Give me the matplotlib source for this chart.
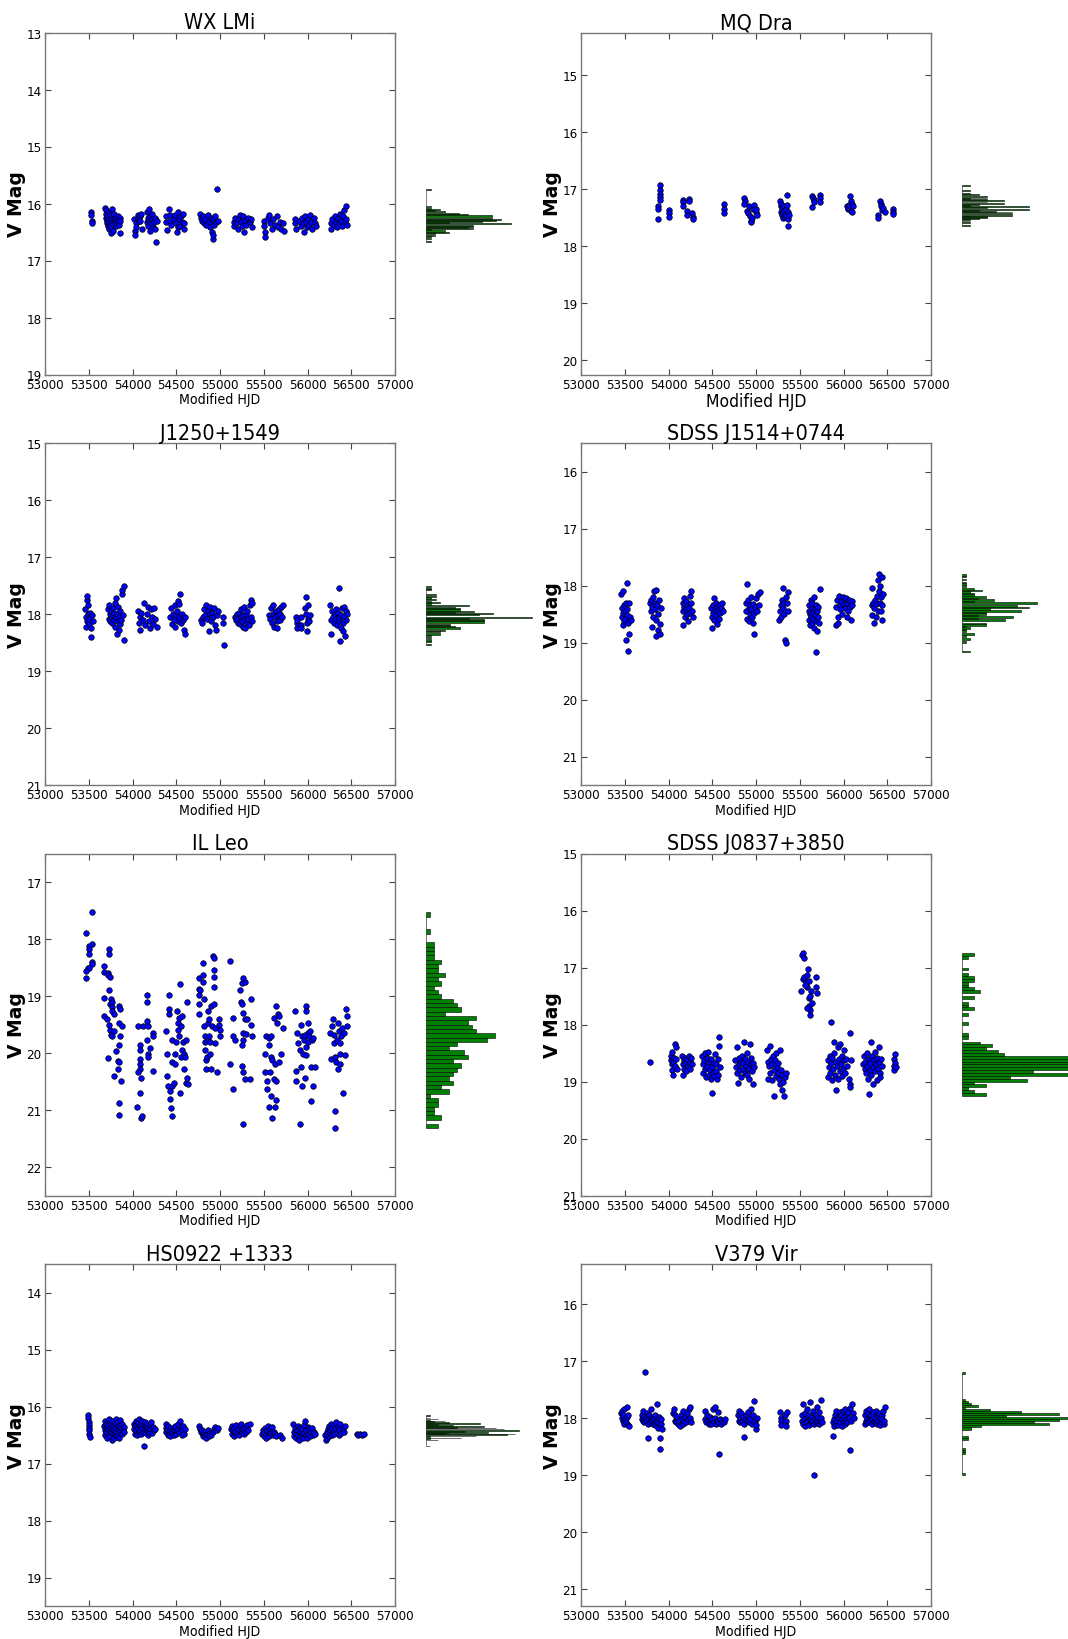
import numpy as np
import matplotlib
matplotlib.use("Agg")
import matplotlib.pyplot as plt
from matplotlib.ticker import MultipleLocator, ScalarFormatter
from matplotlib import font_manager as fm

# ---------------- data (MJD, V mag) ----------------
wx_lmi = [
 (53530,16.15),(53530,16.20),(53532,16.30),(53532,16.35),
 (53690,16.08),(53692,16.12),(53695,16.18),(53700,16.25),(53705,16.30),(53708,16.22),(53712,16.35),(53718,16.28),(53722,16.40),(53728,16.15),(53730,16.33),(53735,16.45),(53740,16.20),(53745,16.38),(53750,16.52),(53752,16.27),(53758,16.42),(53762,16.10),(53768,16.32),(53772,16.48),(53778,16.22),(53782,16.36),(53790,16.18),(53795,16.30),(53802,16.25),(53808,16.40),(53815,16.35),(53822,16.28),(53830,16.22),(53838,16.32),(53845,16.38),(53852,16.25),(53858,16.30),(53860,16.52),
 (54022,16.28),(54025,16.48),(54028,16.55),(54035,16.35),(54045,16.42),(54060,16.25),(54068,16.20),(54075,16.30),(54082,16.22),(54090,16.30),(54098,16.18),(54105,16.45),
 (54162,16.15),(54165,16.32),(54172,16.25),(54178,16.40),(54185,16.10),(54190,16.30),(54198,16.48),(54205,16.22),(54212,16.35),(54220,16.28),(54228,16.18),(54235,16.42),(54245,16.33),(54255,16.25),(54262,16.45),(54268,16.68),(54278,16.30),
 (54385,16.22),(54388,16.32),(54392,16.47),(54420,16.10),(54425,16.20),(54430,16.30),(54445,16.38),(54470,16.28),(54490,16.20),(54500,16.35),(54510,16.50),(54515,16.42),(54525,16.15),(54535,16.28),(54545,16.40),(54555,16.22),(54565,16.32),(54575,16.18),(54585,16.35),(54588,16.45),
 (54775,16.18),(54780,16.25),(54790,16.30),(54800,16.22),(54815,16.35),(54830,16.28),(54845,16.38),(54860,16.20),(54875,16.32),(54890,16.42),(54900,16.25),(54905,16.50),(54910,16.35),(54915,16.62),(54920,16.55),(54925,16.28),(54935,16.38),(54945,16.22),(54955,16.32),(54969,15.74),(54975,16.30),
 (55155,16.32),(55160,16.40),(55170,16.25),(55185,16.35),(55200,16.45),(55215,16.28),(55225,16.20),(55235,16.33),(55250,16.40),(55260,16.22),(55270,16.50),(55285,16.30),(55300,16.38),(55320,16.25),(55340,16.33),(55355,16.28),(55365,16.42),
 (55500,16.30),(55505,16.40),(55510,16.50),(55515,16.58),(55545,16.25),(55560,16.20),(55575,16.35),(55590,16.45),(55610,16.28),(55630,16.38),(55650,16.22),(55665,16.42),(55680,16.32),(55700,16.45),(55720,16.35),(55728,16.48),
 (55855,16.28),(55860,16.35),(55865,16.45),(55900,16.30),(55920,16.40),(55935,16.25),(55950,16.35),(55965,16.50),(55975,16.22),(55985,16.32),(55995,16.42),(56005,16.28),(56015,16.38),(56025,16.20),(56040,16.32),(56055,16.45),(56070,16.25),(56085,16.35),(56100,16.40),
 (56265,16.35),(56270,16.45),(56285,16.28),(56300,16.38),(56315,16.22),(56325,16.33),(56340,16.42),(56350,16.25),(56360,16.35),(56372,16.18),(56385,16.30),(56395,16.40),(56405,16.22),(56415,16.12),(56425,16.32),(56435,16.05),(56445,16.28),(56452,16.38),
]

mq_dra = [
 (53875,17.30),(53877,17.35),(53875,17.53),(53905,16.93),(53905,17.02),(53907,17.08),(53907,17.13),(53905,17.18),
 (54004,17.37),(54004,17.42),(54006,17.48),
 (54160,17.18),(54160,17.22),(54162,17.30),(54206,17.38),(54208,17.45),(54237,17.17),(54237,17.20),
 (54272,17.42),(54276,17.48),(54278,17.52),
 (54634,17.25),(54634,17.35),(54636,17.42),
 (54868,17.15),(54870,17.20),(54868,17.25),
 (54900,17.38),(54910,17.42),(54920,17.30),(54930,17.47),(54940,17.55),(54948,17.58),(54955,17.50),(54960,17.35),
 (54980,17.27),(54995,17.40),(55005,17.35),(55015,17.45),
 (55276,17.20),(55280,17.30),(55285,17.40),(55290,17.25),(55295,17.45),(55300,17.35),(55305,17.50),(55310,17.42),(55318,17.30),(55325,17.38),(55330,17.48),(55338,17.35),(55345,17.45),(55350,17.10),(55355,17.28),(55360,17.52),(55365,17.40),(55370,17.65),(55375,17.45),
 (55638,17.12),(55640,17.32),(55650,17.15),(55660,17.18),(55665,17.22),
 (55728,17.10),(55730,17.15),(55732,17.22),
 (56040,17.30),(56048,17.35),(56055,17.33),(56065,17.27),(56075,17.12),(56080,17.20),(56088,17.38),(56095,17.40),(56100,17.25),(56105,17.30),
 (56389,17.45),(56392,17.50),
 (56416,17.20),(56425,17.25),(56432,17.30),(56440,17.37),(56450,17.33),(56470,17.40),
 (56560,17.35),(56560,17.40),(56562,17.43),
]

j1250 = [
 (53462,17.92),(53465,18.05),(53470,18.22),(53475,18.12),(53480,17.75),(53485,17.69),(53490,18.00),(53495,17.85),(53500,18.18),(53505,18.08),(53515,17.98),(53525,18.25),(53530,18.41),(53540,18.02),(53550,18.12),
 (53725,17.92),(53730,18.08),(53735,17.85),(53742,18.00),(53748,18.12),(53752,17.95),(53760,18.05),(53765,18.15),(53772,17.90),(53778,18.02),(53785,18.10),(53790,17.98),(53795,18.22),(53800,17.80),(53808,18.05),(53812,17.72),(53818,18.35),(53822,18.00),(53830,18.12),(53835,17.88),(53840,18.28),(53848,18.05),(53855,17.95),(53860,18.18),(53868,18.10),(53875,17.65),(53880,17.58),(53890,18.02),(53898,17.50),(53905,18.45),
 (54065,17.95),(54070,18.15),(54080,18.05),(54090,18.28),(54100,17.98),(54115,18.10),(54130,17.80),(54145,18.20),(54160,18.00),(54175,17.88),(54190,18.12),(54200,18.25),(54210,17.92),(54222,18.05),(54235,18.18),(54248,17.90),(54260,18.08),(54275,18.22),
 (54432,18.05),(54440,17.90),(54450,18.18),(54460,18.00),(54470,18.10),(54480,17.85),(54490,18.22),(54498,18.02),(54505,17.95),(54515,18.12),(54520,17.78),(54528,18.05),(54535,17.82),(54545,17.65),(54550,18.15),(54560,18.00),(54572,18.10),(54585,18.28),(54595,18.35),(54605,18.05),
 (54785,18.10),(54792,18.15),(54800,18.05),(54815,17.92),(54830,18.02),(54840,17.85),(54850,18.08),(54860,17.95),(54870,18.30),(54880,18.00),(54890,17.88),(54900,18.12),(54910,17.98),(54920,18.05),(54930,17.90),(54940,18.20),(54950,18.28),(54960,18.02),(54975,17.95),(55035,18.05),(55037,18.15),(55040,18.55),
 (55172,18.05),(55180,18.10),(55190,18.00),(55200,18.15),(55210,18.08),(55220,17.98),(55228,18.18),(55235,18.05),(55245,17.92),(55252,18.12),(55260,18.22),(55268,18.02),(55275,17.88),(55282,18.10),(55290,18.25),(55298,18.00),(55305,18.15),(55312,17.95),(55320,18.08),(55330,18.20),(55340,17.85),(55350,18.05),(55358,17.75),(55362,17.80),(55368,18.12),
 (55562,18.02),(55570,18.08),(55580,17.90),(55590,18.15),(55600,17.85),(55610,18.00),(55620,18.22),(55630,18.05),(55640,17.95),(55648,18.12),(55655,18.25),(55662,18.02),(55670,17.92),(55680,18.10),(55690,18.00),(55700,17.88),(55712,18.05),(55718,17.85),
 (55872,18.05),(55875,18.15),(55880,18.25),(55885,18.10),(55920,18.05),(55925,18.20),(55930,18.25),(55975,17.90),(55980,18.00),(55985,17.70),(55990,18.15),(55995,18.30),(56000,18.08),(56010,17.85),(56018,18.12),(56025,18.02),
 (56262,17.85),(56265,18.35),(56270,18.10),(56278,17.95),(56290,18.05),(56300,18.15),(56310,18.00),(56320,18.08),(56330,17.92),(56340,18.20),(56348,17.98),(56355,18.12),(56360,17.55),(56365,18.05),(56372,18.48),(56378,18.25),(56385,18.02),(56392,17.90),(56400,18.15),(56408,18.30),(56415,18.05),(56422,17.88),(56430,18.38),(56438,18.10),(56445,17.95),(56450,18.00),
]

j1514 = [
 (53462,18.15),(53465,18.40),(53470,18.55),(53475,18.70),(53480,18.10),(53485,18.48),(53490,18.62),(53495,18.35),(53500,18.45),(53505,18.58),(53510,18.30),(53515,18.95),(53520,18.52),(53525,17.95),(53530,18.42),(53535,18.65),(53540,19.15),(53545,18.85),(53550,18.30),(53560,18.55),(53570,18.60),
 (53792,18.30),(53798,18.45),(53805,18.25),(53810,18.72),(53815,18.38),(53822,18.20),(53828,18.55),(53835,18.10),(53840,18.42),(53845,18.30),(53852,18.60),(53858,18.08),(53862,18.88),(53868,18.35),(53875,18.50),(53882,18.78),(53890,18.25),(53898,18.68),(53905,18.85),(53912,18.40),
 (54160,18.30),(54165,18.45),(54170,18.70),(54175,18.22),(54180,18.38),(54185,18.55),(54190,18.32),(54198,18.42),(54205,18.28),(54210,18.50),(54218,18.35),(54225,18.62),(54232,18.40),(54240,18.18),(54248,18.48),(54255,18.30),(54262,18.10),(54268,18.45),(54275,18.55),
 (54490,18.40),(54495,18.55),(54500,18.75),(54505,18.35),(54512,18.48),(54518,18.22),(54525,18.60),(54530,18.42),(54538,18.30),(54545,18.52),(54552,18.68),(54558,18.38),(54565,18.45),(54572,18.58),(54580,18.35),(54590,18.48),(54600,18.40),(54612,18.30),(54625,18.45),
 (54880,18.45),(54888,18.30),(54895,18.58),(54902,17.97),(54908,18.25),(54915,18.40),(54922,18.62),(54928,18.35),(54935,18.50),(54942,18.20),(54948,18.42),(54955,18.55),(54962,18.65),(54968,18.32),(54975,18.85),(54982,18.48),(54990,18.38),(55000,18.22),(55010,18.45),(55020,18.15),(55035,18.35),(55050,18.12),
 (55268,18.60),(55275,18.45),(55282,18.35),(55290,18.55),(55298,18.25),(55305,18.40),(55312,18.05),(55318,18.30),(55325,18.50),(55330,18.95),(55338,19.00),(55345,18.20),(55352,18.30),(55360,18.45),(55366,18.12),
 (55600,18.45),(55605,18.60),(55610,18.35),(55615,18.70),(55620,18.50),(55625,18.25),(55630,18.55),(55635,18.40),(55640,18.65),(55645,18.30),(55650,18.48),(55655,18.58),(55660,18.20),(55665,18.75),(55670,18.42),(55675,18.52),(55680,18.35),(55685,18.62),(55690,19.17),(55695,18.45),(55700,18.80),(55705,18.55),(55712,18.38),(55720,18.65),(55728,18.07),
 (55912,18.38),(55918,18.70),(55925,18.25),(55932,18.55),(55940,18.65),(55948,18.18),(55955,18.35),(55965,18.42),(55975,18.28),(55985,18.50),(55995,18.20),(56005,18.32),(56015,18.40),(56025,18.22),(56035,18.55),(56045,18.30),(56055,18.45),(56065,18.25),(56075,18.38),(56085,18.60),(56095,18.28),(56102,18.35),
 (56320,18.35),(56325,18.05),(56330,18.52),(56338,18.30),(56345,18.65),(56352,18.40),(56360,18.25),(56368,18.55),(56375,18.32),(56382,18.18),(56390,18.45),(56398,17.90),(56402,17.80),(56408,18.10),(56415,18.30),(56420,18.00),(56425,18.45),(56430,18.20),(56435,17.85),(56440,18.35),(56445,18.60),(56452,18.15),
]

il_leo = [
 (53467,17.90),(53537,17.53),(53537,18.08),(53506,18.12),(53506,18.17),(53506,18.26),(53537,18.40),(53537,18.43),(53490,18.50),(53506,18.50),(53467,18.56),(53467,18.69),
 (53673,18.48),(53673,18.58),(53724,18.60),(53724,18.64),(53732,18.18),(53732,18.26),(53739,18.66),(53673,19.04),(53673,19.35),(53712,19.41),(53732,18.90),(53739,19.14),(53751,19.05),(53763,19.11),(53770,19.20),(53770,19.26),(53790,19.32),(53732,19.50),(53739,19.59),(53751,19.68),(53770,19.71),(53790,19.62),(53724,20.09),(53794,20.40),(53817,19.97),(53829,20.14),(53848,20.16),(53829,20.28),(53840,19.17),(53856,19.23),(53840,19.47),(53856,19.71),(53848,19.86),(53840,20.88),(53840,21.09),(53872,20.49),(53875,19.53),
 (54054,20.95),(54082,20.71),(54101,21.14),(54113,21.11),(54062,19.53),(54121,19.53),(54082,19.86),(54089,19.95),(54082,20.10),(54082,20.19),(54089,20.28),(54101,20.44),(54062,20.34),(54160,18.99),(54167,19.11),(54167,19.44),(54179,19.53),(54167,19.77),(54179,20.01),(54179,20.07),(54198,19.92),(54230,19.65),(54230,19.71),(54230,20.31),
 (54385,19.62),(54393,20.01),(54393,20.40),(54401,20.58),(54412,18.99),(54412,19.23),(54412,19.32),(54424,20.67),(54432,20.80),(54440,20.97),(54451,21.11),(54451,20.16),(54451,19.77),(54451,20.58),(54471,20.52),(54490,20.01),(54490,20.19),(54502,19.80),(54510,19.26),(54518,19.47),(54518,19.59),(54529,19.38),(54529,19.71),(54541,18.79),(54541,20.70),(54549,20.07),(54556,19.53),(54568,19.95),(54568,19.35),(54580,19.80),(54588,20.01),(54588,20.28),(54595,20.07),(54607,20.52),(54607,19.77),(54626,19.11),(54626,20.43),(54634,20.55),
 (54763,18.69),(54763,18.87),(54763,18.99),(54774,18.90),(54763,19.14),(54763,19.32),(54802,18.42),(54802,18.63),(54809,18.75),(54813,19.05),(54821,19.53),(54829,19.71),(54829,19.80),(54829,19.95),(54840,20.13),(54840,20.28),(54852,20.07),(54860,19.77),(54860,19.47),(54868,19.26),(54879,19.41),(54879,19.71),(54891,19.80),(54891,20.01),(54899,19.17),(54899,20.28),(54907,19.53),(54918,18.30),(54930,18.33),(54930,18.54),(54930,18.66),(54930,18.84),(54930,19.14),(54938,19.56),(54946,19.83),(54969,20.34),(54984,19.41),(54984,19.50),(54996,19.59),(54996,19.71),
 (55113,18.38),(55113,20.19),(55144,19.38),(55152,19.71),(55152,20.64),(55171,19.77),(55230,18.90),(55241,19.11),(55249,19.14),(55257,18.78),(55268,18.69),(55280,18.75),(55268,19.29),(55280,19.41),(55268,19.65),(55268,19.77),(55257,19.86),(55257,20.22),(55268,20.34),(55280,20.46),(55268,21.25),(55296,19.66),(55307,19.41),(55358,19.05),(55358,19.50),(55346,20.46),(55366,19.71),
 (55514,20.01),(55514,20.34),(55529,19.71),(55541,20.49),(55541,20.64),(55560,19.74),(55560,19.86),(55560,20.94),(55568,20.34),(55580,19.71),(55580,20.07),(55588,20.76),(55599,20.13),(55599,21.14),(55619,19.38),(55619,20.46),(55630,20.19),(55630,20.94),(55638,19.17),(55638,20.49),(55638,20.82),(55646,19.47),(55658,19.32),(55669,19.35),(55669,20.16),(55696,20.01),(55724,19.56),
 (55860,19.26),(55864,20.31),(55872,20.49),(55879,19.65),(55891,19.83),(55911,21.25),(55918,19.95),(55930,19.50),(55930,20.25),(55938,20.58),(55942,19.71),(55949,20.01),(55961,19.77),(55969,19.68),(55969,20.43),(55981,19.17),(55981,19.89),(55988,19.26),(55988,20.04),(56000,19.47),(56000,19.65),(56008,19.80),(56019,19.71),(56027,19.62),(56035,20.25),(56035,20.85),(56047,19.77),(56058,20.58),(56066,19.74),(56086,20.25),
 (56261,19.65),(56268,20.10),(56280,19.53),(56292,19.41),(56300,19.68),(56307,19.83),(56311,21.32),(56319,20.07),(56319,21.02),(56331,20.16),(56338,19.77),(56346,20.28),(56350,19.47),(56358,19.62),(56366,20.01),(56370,20.19),(56377,19.83),(56385,19.71),(56397,19.56),(56409,20.70),(56416,19.65),(56424,20.04),(56436,19.23),(56447,19.35),(56455,19.53),
]

j0837 = [
 (53790,18.66),
 (54025,18.62),(54030,18.55),(54035,18.70),(54040,18.48),(54045,18.80),(54050,18.65),(54055,18.88),(54062,18.58),(54070,18.72),(54078,18.35),(54082,18.40),(54090,18.60),(54100,18.78),
 (54155,18.55),(54160,18.70),(54168,18.88),(54175,18.62),(54182,18.78),(54190,18.58),(54198,18.68),(54205,18.82),(54212,18.60),(54220,18.72),(54230,18.55),(54240,18.65),(54250,18.78),(54260,18.58),(54268,18.70),
 (54380,18.55),(54390,18.70),(54398,18.85),(54405,18.62),(54412,18.50),(54420,18.78),(54428,18.92),(54435,18.58),(54442,18.72),(54450,18.48),(54458,18.88),(54465,18.65),(54472,18.80),(54480,18.95),(54488,18.60),(54495,19.20),(54500,18.75),(54508,18.85),(54515,18.68),(54522,18.90),(54530,18.52),(54538,18.82),(54545,18.70),(54552,18.95),(54560,18.60),(54565,18.88),(54572,18.22),(54578,18.38),(54585,18.75),
 (54765,18.62),(54772,18.75),(54780,18.40),(54788,18.85),(54795,19.02),(54802,18.70),(54810,18.58),(54818,18.80),(54825,18.65),(54832,18.92),(54840,18.55),(54848,18.78),(54855,18.68),(54862,18.30),(54870,18.85),(54878,18.60),(54885,18.72),(54892,18.50),(54900,18.88),(54908,18.65),(54915,18.78),(54922,18.95),(54930,18.35),(54938,18.70),(54945,18.58),(54952,18.82),(54960,18.68),(54970,19.05),(54978,18.75),
 (55128,18.45),(55135,18.65),(55142,18.95),(55150,18.72),(55158,18.38),(55165,18.85),(55172,18.60),(55180,18.98),(55188,18.70),(55195,18.55),(55202,19.25),(55210,18.80),(55218,18.62),(55225,18.90),(55232,18.50),(55240,18.75),(55248,18.85),(55255,18.68),(55262,18.95),(55270,19.05),(55278,18.45),(55285,18.80),(55292,19.15),(55300,18.88),(55310,19.00),(55318,19.25),(55328,18.92),(55338,18.85),
 (55525,16.78),(55535,16.75),(55545,16.84),(55515,17.41),(55540,17.20),(55550,17.17),(55570,17.26),(55580,17.35),(55585,17.14),(55592,17.02),(55600,17.23),(55610,17.53),(55600,17.68),(55618,17.74),(55625,17.41),(55635,17.62),(55618,17.83),(55580,17.71),(55690,17.17),(55695,17.44),(55690,17.35),(55620,17.50),(55560,17.30),
 (55852,17.96),
 (55822,18.92),(55828,18.62),(55835,18.75),(55842,18.55),(55850,18.85),(55858,18.68),(55865,18.98),(55872,18.58),(55880,18.78),(55888,18.50),(55895,18.30),(55902,18.88),(55910,18.65),(55918,19.15),(55925,18.72),(55932,18.40),(55940,18.95),(55948,18.60),(55955,18.82),(55962,18.35),(55970,18.70),(55978,18.90),(55985,18.55),(55992,18.78),(56000,18.45),(56010,18.62),(56020,18.85),(56030,18.60),(56045,18.72),(56060,18.95),(56070,19.05),(56072,18.15),(56075,19.10),(56080,18.62),
 (56228,18.70),(56235,18.55),(56242,18.78),(56250,18.65),(56258,18.85),(56265,18.50),(56272,18.72),(56280,18.95),(56288,18.60),(56292,19.22),(56298,18.80),(56305,18.68),(56312,18.30),(56318,18.88),(56325,18.55),(56332,18.75),(56340,19.05),(56348,18.62),(56355,18.82),(56362,18.48),(56370,18.70),(56378,18.98),(56385,18.58),(56392,18.78),(56400,18.40),(56408,18.65),(56415,18.85),(56422,18.92),(56430,18.60),(56438,18.72),
 (56572,18.60),(56575,18.72),(56578,18.80),(56590,18.52),(56592,18.68),(56598,18.75),
]

hs0922 = [
 (53495,16.15),(53497,16.20),(53498,16.28),(53500,16.33),(53502,16.38),(53505,16.42),(53508,16.48),(53510,16.53),
 (53675,16.35),(53680,16.42),(53685,16.25),(53690,16.50),(53695,16.30),(53700,16.45),(53705,16.38),(53710,16.55),(53715,16.28),(53720,16.40),(53725,16.33),(53730,16.48),(53735,16.22),(53740,16.52),(53745,16.36),(53750,16.44),(53755,16.30),(53760,16.58),(53765,16.40),(53770,16.26),(53775,16.47),(53780,16.34),(53785,16.55),(53790,16.42),(53795,16.30),(53800,16.50),(53805,16.38),(53810,16.22),(53815,16.45),(53820,16.33),(53825,16.52),(53830,16.40),(53835,16.28),(53840,16.47),(53845,16.35),(53850,16.55),(53855,16.42),(53860,16.24),(53868,16.38),(53875,16.48),(53882,16.30),(53890,16.42),(53898,16.36),(53905,16.45),
 (54012,16.40),(54018,16.30),(54024,16.48),(54030,16.35),(54036,16.25),(54042,16.42),(54048,16.33),(54054,16.50),(54060,16.28),(54066,16.38),(54072,16.45),(54078,16.22),(54084,16.35),(54090,16.42),(54096,16.30),(54102,16.48),(54108,16.25),(54114,16.38),(54120,16.44),(54126,16.32),(54132,16.70),(54138,16.40),(54144,16.27),(54150,16.46),(54156,16.35),(54162,16.42),(54168,16.30),(54175,16.50),(54182,16.38),(54190,16.45),(54198,16.33),(54205,16.40),(54215,16.28),(54225,16.47),(54235,16.36),(54245,16.42),(54255,16.40),
 (54378,16.30),(54382,16.38),(54388,16.45),(54395,16.40),(54402,16.50),(54410,16.35),(54418,16.48),(54425,16.42),(54432,16.52),(54440,16.38),(54450,16.45),(54460,16.40),(54470,16.50),(54480,16.42),(54490,16.35),(54500,16.48),(54510,16.42),(54520,16.30),(54530,16.45),(54540,16.25),(54550,16.38),(54560,16.50),(54570,16.42),(54580,16.35),(54590,16.48),(54600,16.40),
 (54765,16.35),(54772,16.40),(54780,16.45),(54790,16.42),(54800,16.48),(54810,16.52),(54820,16.45),(54830,16.50),(54840,16.55),(54850,16.48),(54860,16.42),(54870,16.52),(54885,16.46),(54900,16.50),(54915,16.44),(54930,16.40),(54945,16.36),(54960,16.42),(54972,16.38),
 (55128,16.40),(55135,16.35),(55142,16.48),(55150,16.42),(55158,16.52),(55165,16.38),(55175,16.45),(55185,16.32),(55195,16.48),(55205,16.40),(55215,16.50),(55225,16.35),(55235,16.44),(55245,16.30),(55255,16.46),(55265,16.40),(55275,16.48),(55285,16.36),(55295,16.44),(55310,16.32),(55325,16.42),(55340,16.30),
 (55485,16.48),(55492,16.42),(55500,16.52),(55508,16.45),(55515,16.38),(55522,16.50),(55530,16.55),(55538,16.42),(55545,16.35),(55555,16.48),(55565,16.52),(55575,16.40),(55585,16.46),(55595,16.36),(55605,16.50),(55615,16.44),(55625,16.48),(55640,16.52),(55690,16.50),(55712,16.55),
 (55835,16.30),(55842,16.45),(55850,16.52),(55858,16.38),(55865,16.48),(55872,16.55),(55880,16.42),(55888,16.35),(55895,16.50),(55902,16.58),(55910,16.44),(55918,16.38),(55925,16.52),(55932,16.47),(55940,16.40),(55948,16.55),(55955,16.33),(55962,16.46),(55970,16.25),(55978,16.50),(55985,16.42),(55992,16.56),(56000,16.36),(56010,16.48),(56020,16.40),(56030,16.52),(56040,16.45),(56050,16.38),(56062,16.50),(56075,16.44),(56085,16.48),
 (56205,16.50),(56210,16.58),(56218,16.45),(56225,16.55),(56232,16.40),(56240,16.52),(56248,16.35),(56255,16.47),(56262,16.42),(56270,16.30),(56278,16.50),(56285,16.38),(56292,16.45),(56300,16.33),(56308,16.48),(56316,16.40),(56325,16.28),(56335,16.44),(56345,16.36),(56355,16.50),(56365,16.42),(56375,16.30),(56388,16.46),(56400,16.38),(56415,16.44),(56430,16.35),
 (56560,16.49),(56575,16.50),(56600,16.49),(56625,16.50),(56645,16.49),
]

v379_vir = [
 (53460,17.92),(53465,17.88),(53470,18.00),(53478,17.95),(53485,18.05),(53490,18.10),(53495,17.85),(53500,18.02),(53510,18.08),(53520,17.98),(53530,17.80),(53535,18.12),(53540,17.95),(53545,18.15),
 (53695,17.95),(53700,18.02),(53705,17.88),(53712,18.05),(53718,17.98),(53725,18.08),(53735,17.19),(53740,18.00),(53748,18.05),(53755,17.92),(53762,18.10),(53770,18.35),(53775,18.02),(53782,17.95),(53790,18.08),(53798,18.00),(53805,17.85),(53812,18.05),(53820,18.10),(53828,17.98),(53835,18.02),(53842,18.12),(53850,17.95),(53858,18.08),(53865,17.75),(53870,18.05),(53878,18.00),(53885,18.18),(53892,17.98),(53900,18.35),(53905,18.55),(53910,18.10),(53915,18.02),(53922,18.20),
 (54055,17.92),(54062,17.85),(54070,18.05),(54078,17.95),(54085,18.08),(54092,18.02),(54100,17.98),(54110,18.10),(54120,18.05),(54130,18.15),(54140,17.95),(54150,18.02),(54160,18.10),(54170,17.88),(54180,18.05),(54190,17.98),(54200,18.08),(54210,17.92),(54220,18.02),(54230,17.85),(54240,18.00),(54250,17.80),(54258,18.08),
 (54412,17.88),(54420,18.02),(54430,18.08),(54440,17.95),(54450,18.05),(54460,18.10),(54470,17.98),(54480,18.05),(54490,18.10),(54500,18.02),(54510,17.85),(54520,18.08),(54528,18.00),(54535,17.80),(54545,18.10),(54555,18.05),(54562,17.90),(54570,18.08),(54580,18.63),(54590,18.02),(54600,18.10),(54615,18.05),(54630,18.08),(54640,18.02),
 (54792,17.95),(54800,18.05),(54808,17.88),(54815,18.08),(54822,18.00),(54830,17.92),(54840,18.05),(54850,17.98),(54858,18.33),(54865,18.10),(54875,18.02),(54885,17.95),(54895,18.05),(54905,17.90),(54915,18.08),(54925,17.98),(54935,18.02),(54945,17.85),(54955,18.10),(54965,17.95),(54975,17.70),(54985,18.05),(54995,18.20),(55005,18.12),(55012,18.00),
 (55276,17.90),(55280,18.00),(55285,18.05),(55290,18.12),(55335,17.95),(55340,18.05),(55345,18.15),(55350,17.90),
 (55522,18.05),(55528,17.95),(55535,18.10),(55542,17.75),(55548,18.02),(55555,18.15),(55562,17.92),(55570,18.08),(55578,18.00),(55585,17.85),(55592,18.05),(55600,18.12),(55608,17.95),(55615,18.02),(55622,17.72),(55630,18.08),(55638,17.98),(55645,18.05),(55652,17.88),(55660,18.10),(55668,19.00),(55672,18.02),(55680,17.95),(55688,18.08),(55695,17.80),(55702,18.05),(55710,17.98),(55718,18.10),(55725,17.90),(55732,18.05),(55740,17.68),(55745,18.00),(55752,18.08),
 (55878,18.32),(55882,18.08),(55888,18.15),(55895,18.02),(55902,17.95),(55910,18.10),(55918,17.88),(55925,18.05),(55932,17.98),(55940,18.12),(55948,18.00),(55955,17.90),(55962,18.08),(55970,17.95),(55978,18.15),(55985,18.02),(55992,17.88),(56000,18.05),(56008,17.98),(56015,18.10),(56022,17.85),(56030,18.02),(56038,17.95),(56045,18.08),(56052,17.90),(56060,18.00),(56070,18.57),(56078,17.82),(56088,18.05),(56098,17.75),(56108,17.92),(56115,18.00),
 (56242,18.10),(56248,17.95),(56255,18.05),(56262,17.88),(56270,18.02),(56278,17.92),(56285,18.08),(56292,17.85),(56300,18.00),(56308,18.05),(56315,17.95),(56322,18.10),(56330,18.02),(56338,17.90),(56345,18.05),(56352,17.98),(56360,18.08),(56368,17.88),(56375,18.02),(56382,18.10),(56390,17.95),(56398,18.05),(56405,17.92),(56412,18.12),(56420,18.00),(56428,18.08),(56435,17.95),(56442,18.02),(56450,17.88),(56458,18.10),(56465,18.05),(56472,17.80),
]

titles = ["WX LMi", "MQ Dra", "J1250+1549", "SDSS J1514+0744",
          "IL Leo", "SDSS J0837+3850", "HS0922 +1333", "V379 Vir"]
datasets = [wx_lmi, mq_dra, j1250, j1514, il_leo, j0837, hs0922, v379_vir]
ylims = [(19.0, 13.0), (20.25, 14.25), (21.0, 15.0), (21.5, 15.5),
         (22.5, 16.5), (21.0, 15.0), (19.5, 13.5), (21.3, 15.3)]

# ---------------- fonts ----------------
def pick_narrow():
    entries = fm.fontManager.ttflist
    for e in entries:
        if "DejaVuSansCondensed.ttf" in e.fname:
            return fm.FontProperties(fname=e.fname)
    for e in entries:
        if e.name == "Liberation Sans Narrow" and e.weight in (400, "normal", "regular") and e.style == "normal":
            return fm.FontProperties(fname=e.fname)
    return fm.FontProperties(family="DejaVu Sans")

NARROW = pick_narrow()

def nfont(size):
    fp = NARROW.copy()
    fp.set_size(size)
    return fp

# ---------------- layout (pixels) ----------------
W, H = 1068, 1640
fig = plt.figure(figsize=(W / 100, H / 100), dpi=100)

col_left = [45, 581]
col_width = [350, 350]
hist_left = [426, 962]
hist_w = 150
row_top = [33.5, 444, 854.5, 1265]
ax_h = 342
hist_len = [84.5, 67, 106, 75, 69, 125, 93, 125]   # longest bar (px)
xlabel_size = [10.1, 12.6, 10.1, 10.1, 10.1, 10.1, 10.1, 10.1]

def frac(l, t, w, h):
    return [l / W, 1 - (t + h) / H, w / W, h / H]

for i, (title, data, yl) in enumerate(zip(titles, datasets, ylims)):
    r, c = divmod(i, 2)
    arr = np.array(data)
    mjd, mag = arr[:, 0], arr[:, 1]

    ax = fig.add_axes(frac(col_left[c], row_top[r], col_width[c], ax_h))
    ax.scatter(mjd, mag, s=16, c="b", edgecolors="k", linewidths=0.5, zorder=3)
    ax.set_xlim(53000, 57000)
    ax.set_ylim(*yl)
    ax.xaxis.set_major_locator(MultipleLocator(500))
    ax.yaxis.set_major_locator(MultipleLocator(1))
    ax.xaxis.set_major_formatter(ScalarFormatter(useOffset=False))
    ax.yaxis.set_major_formatter(ScalarFormatter(useOffset=False))
    ax.tick_params(direction="in", top=True, right=True, length=4, width=0.8,
                   color="#444444", pad=2.5)
    for lab in ax.get_xticklabels() + ax.get_yticklabels():
        lab.set_fontproperties(nfont(9.5))
    for sp in ax.spines.values():
        sp.set_color("#777777")
        sp.set_linewidth(1.0)
    ax.set_title(title, fontproperties=nfont(15.5), pad=3)
    ax.set_xlabel("Modified HJD", fontproperties=nfont(xlabel_size[i]), labelpad=1)
    ax.set_ylabel("V Mag", fontsize=13.5, fontweight="bold", family="DejaVu Sans", labelpad=0)

    hx = fig.add_axes(frac(hist_left[c], row_top[r], hist_w, ax_h))
    counts, edges, _ = hx.hist(mag, bins=50, orientation="horizontal",
                               color="g", edgecolor="k", linewidth=0.4)
    hx.set_ylim(*yl)
    hx.set_xlim(0, counts.max() * hist_w / hist_len[i])
    hx.axis("off")

fig.savefig("out.png", dpi=100)
